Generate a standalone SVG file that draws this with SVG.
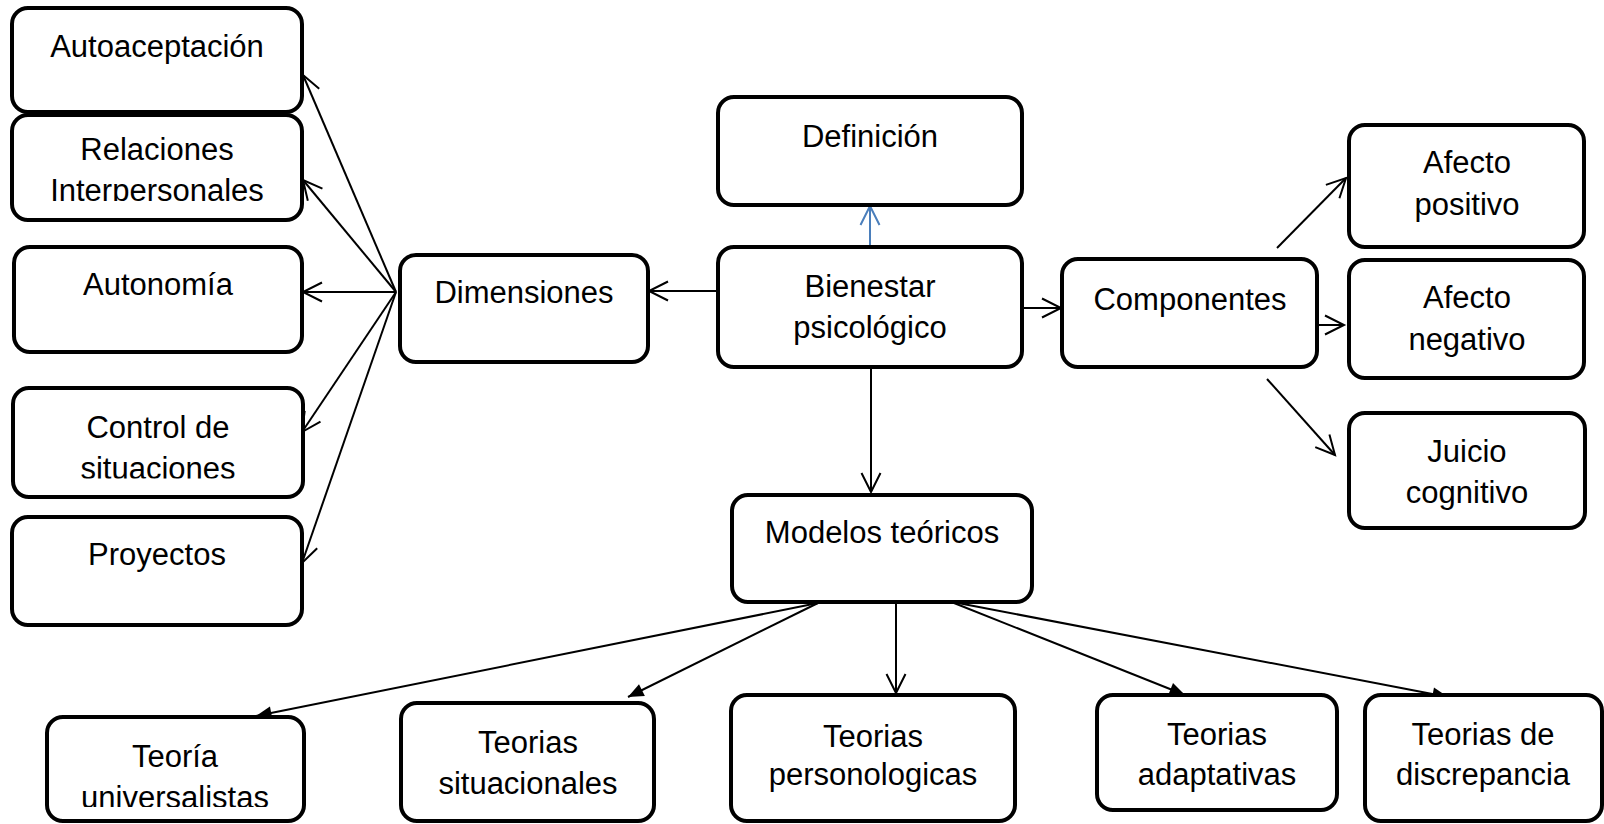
<svg xmlns="http://www.w3.org/2000/svg" width="1604" height="824" viewBox="0 0 1604 824">
<style>
.box{fill:#fff;stroke:#000;stroke-width:4}
.t{font-family:"Liberation Sans",Arial,sans-serif;font-size:31px;fill:#000;text-anchor:middle}
.c{stroke:#000;stroke-width:2;fill:none}
.o{marker-end:url(#open)}
.f{marker-end:url(#fill)}
</style>
<defs>
<marker id="open" markerUnits="userSpaceOnUse" markerWidth="24" markerHeight="24" viewBox="-21 -12 24 24" refX="0" refY="0" orient="auto" overflow="visible">
<path d="M-19,-9.5 L0,0 L-19,9.5" fill="none" stroke="#000" stroke-width="2"/>
</marker>
<marker id="openblue" markerUnits="userSpaceOnUse" markerWidth="24" markerHeight="24" viewBox="-21 -12 24 24" refX="0" refY="0" orient="auto" overflow="visible">
<path d="M-19,-9.5 L0,0 L-19,9.5" fill="none" stroke="#4a7ebb" stroke-width="2"/>
</marker>
<marker id="fill" markerUnits="userSpaceOnUse" markerWidth="20" markerHeight="20" viewBox="-16 -8 18 16" refX="0" refY="0" orient="auto" overflow="visible">
<path d="M-14,-6 L0,0 L-14,6 Z" fill="#000"/>
</marker>
<clipPath id="clipRel"><rect x="0" y="0" width="400" height="201"/></clipPath>
<clipPath id="clipCtrl"><rect x="0" y="380" width="400" height="98.5"/></clipPath>
<clipPath id="clipUni"><rect x="0" y="700" width="400" height="107"/></clipPath>
</defs>

<g id="connectors">
<line class="c o" x1="396" y1="292" x2="303" y2="75"/>
<line class="c o" x1="396" y1="292" x2="303" y2="180"/>
<line class="c o" x1="396" y1="292" x2="303" y2="292"/>
<line class="c o" x1="396" y1="292" x2="302" y2="432"/>
<line class="c o" x1="396" y1="292" x2="302" y2="563"/>
<line class="c o" x1="718" y1="291" x2="649" y2="291"/>
<line x1="870" y1="247" x2="870" y2="206" stroke="#4a7ebb" stroke-width="2" marker-end="url(#openblue)"/>
<line class="c o" x1="1022" y1="308" x2="1061" y2="308"/>
<line class="c o" x1="871" y1="367" x2="871" y2="492"/>
<line class="c o" x1="1277" y1="248" x2="1346" y2="178"/>
<line class="c o" x1="1315" y1="325" x2="1344" y2="325"/>
<line class="c o" x1="1267" y1="379" x2="1335" y2="455"/>
<line class="c f" x1="818" y1="603" x2="256" y2="716"/>
<line class="c f" x1="818" y1="603" x2="628" y2="697"/>
<line class="c o" x1="896" y1="602" x2="896" y2="693"/>
<line class="c f" x1="954" y1="603" x2="1185" y2="695"/>
<line class="c f" x1="958" y1="603" x2="1448" y2="697"/>
</g>

<g id="n-autoaceptacion">
<rect class="box" x="12" y="8" width="290" height="104" rx="16"/>
<text class="t" x="157" y="57">Autoaceptación</text>
</g>
<g id="n-relaciones">
<rect class="box" x="12" y="115" width="290" height="105" rx="16"/>
<text class="t" x="157" y="160">Relaciones</text>
<text class="t" x="157" y="200.5" clip-path="url(#clipRel)">Interpersonales</text>
</g>
<g id="n-autonomia">
<rect class="box" x="14" y="247" width="288" height="105" rx="16"/>
<text class="t" x="158" y="295">Autonomía</text>
</g>
<g id="n-control">
<rect class="box" x="13" y="388" width="290" height="109" rx="16"/>
<text class="t" x="158" y="438">Control de</text>
<text class="t" x="158" y="478.5" clip-path="url(#clipCtrl)">situaciones</text>
</g>
<g id="n-proyectos">
<rect class="box" x="12" y="517" width="290" height="108" rx="16"/>
<text class="t" x="157" y="565">Proyectos</text>
</g>
<g id="n-dimensiones">
<rect class="box" x="400" y="255" width="248" height="107" rx="16"/>
<text class="t" x="524" y="303">Dimensiones</text>
</g>
<g id="n-definicion">
<rect class="box" x="718" y="97" width="304" height="108" rx="16"/>
<text class="t" x="870" y="147">Definición</text>
</g>
<g id="n-bienestar">
<rect class="box" x="718" y="247" width="304" height="120" rx="16"/>
<text class="t" x="870" y="297">Bienestar</text>
<text class="t" x="870" y="338">psicológico</text>
</g>
<g id="n-componentes">
<rect class="box" x="1062" y="259" width="255" height="108" rx="16"/>
<text class="t" x="1190" y="310">Componentes</text>
</g>
<g id="n-afecto-pos">
<rect class="box" x="1349" y="125" width="235" height="122" rx="16"/>
<text class="t" x="1467" y="173">Afecto</text>
<text class="t" x="1467" y="215">positivo</text>
</g>
<g id="n-afecto-neg">
<rect class="box" x="1349" y="260" width="235" height="118" rx="16"/>
<text class="t" x="1467" y="308">Afecto</text>
<text class="t" x="1467" y="350">negativo</text>
</g>
<g id="n-juicio">
<rect class="box" x="1349" y="413" width="236" height="115" rx="16"/>
<text class="t" x="1467" y="462">Juicio</text>
<text class="t" x="1467" y="503">cognitivo</text>
</g>
<g id="n-modelos">
<rect class="box" x="732" y="495" width="300" height="107" rx="16"/>
<text class="t" x="882" y="543">Modelos teóricos</text>
</g>
<g id="n-universalistas">
<rect class="box" x="47" y="717" width="257" height="104" rx="16"/>
<text class="t" x="175" y="767">Teoría</text>
<text class="t" x="175" y="807.5" clip-path="url(#clipUni)">universalistas</text>
</g>
<g id="n-situacionales">
<rect class="box" x="401" y="703" width="253" height="118" rx="16"/>
<text class="t" x="528" y="753">Teorias</text>
<text class="t" x="528" y="794">situacionales</text>
</g>
<g id="n-personologicas">
<rect class="box" x="731" y="695" width="284" height="126" rx="16"/>
<text class="t" x="873" y="747">Teorias</text>
<text class="t" x="873" y="785">personologicas</text>
</g>
<g id="n-adaptativas">
<rect class="box" x="1097" y="695" width="240" height="115" rx="16"/>
<text class="t" x="1217" y="745">Teorias</text>
<text class="t" x="1217" y="785">adaptativas</text>
</g>
<g id="n-discrepancia">
<rect class="box" x="1365" y="695" width="237" height="126" rx="16"/>
<text class="t" x="1483" y="745">Teorias de</text>
<text class="t" x="1483" y="785">discrepancia</text>
</g>
</svg>
